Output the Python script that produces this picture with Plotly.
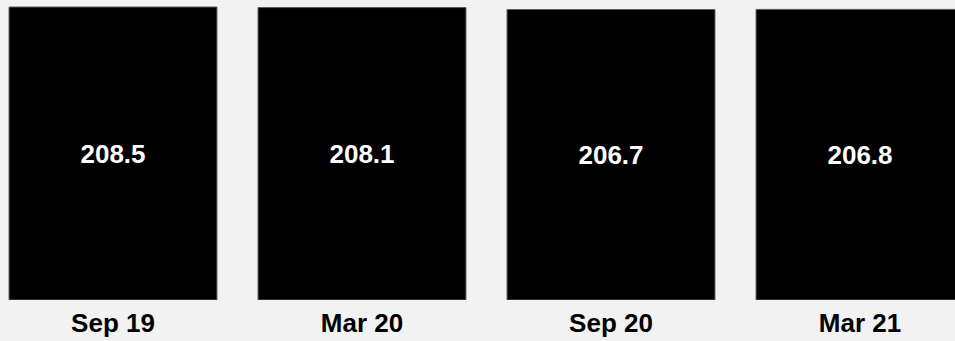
import plotly.graph_objects as go

categories = ["Sep 19", "Mar 20", "Sep 20", "Mar 21"]
values = [208.5, 208.1, 206.7, 206.8]

fig = go.Figure(
    go.Bar(
        x=categories,
        y=values,
        marker=dict(color="#000000", line=dict(color="#5a5a5a", width=1)),
        texttemplate="%{y:.1f}",
        textposition="inside",
        insidetextanchor="middle",
        textangle=0,
        textfont=dict(color="#ffffff", size=26, family="Liberation Sans", weight="bold"),
        hoverinfo="skip",
    )
)

fig.update_layout(
    width=955,
    height=341,
    margin=dict(l=0, r=0, t=0, b=41),
    paper_bgcolor="#f2f2f2",
    plot_bgcolor="#f2f2f2",
    bargap=0.165,
    showlegend=False,
    xaxis=dict(
        range=[-0.4538, 3.3815],
        showgrid=False,
        zeroline=False,
        showline=False,
        ticks="",
        tickfont=dict(color="#000000", size=26, family="Liberation Sans", weight="bold"),
        ticklabelstandoff=5,
    ),
    yaxis=dict(range=[0, 213.5], visible=False),
)

fig.write_html(
    "out.html",
    config={"displayModeBar": False},
    post_script="document.body.style.margin='0';document.body.style.overflow='hidden';",
)
